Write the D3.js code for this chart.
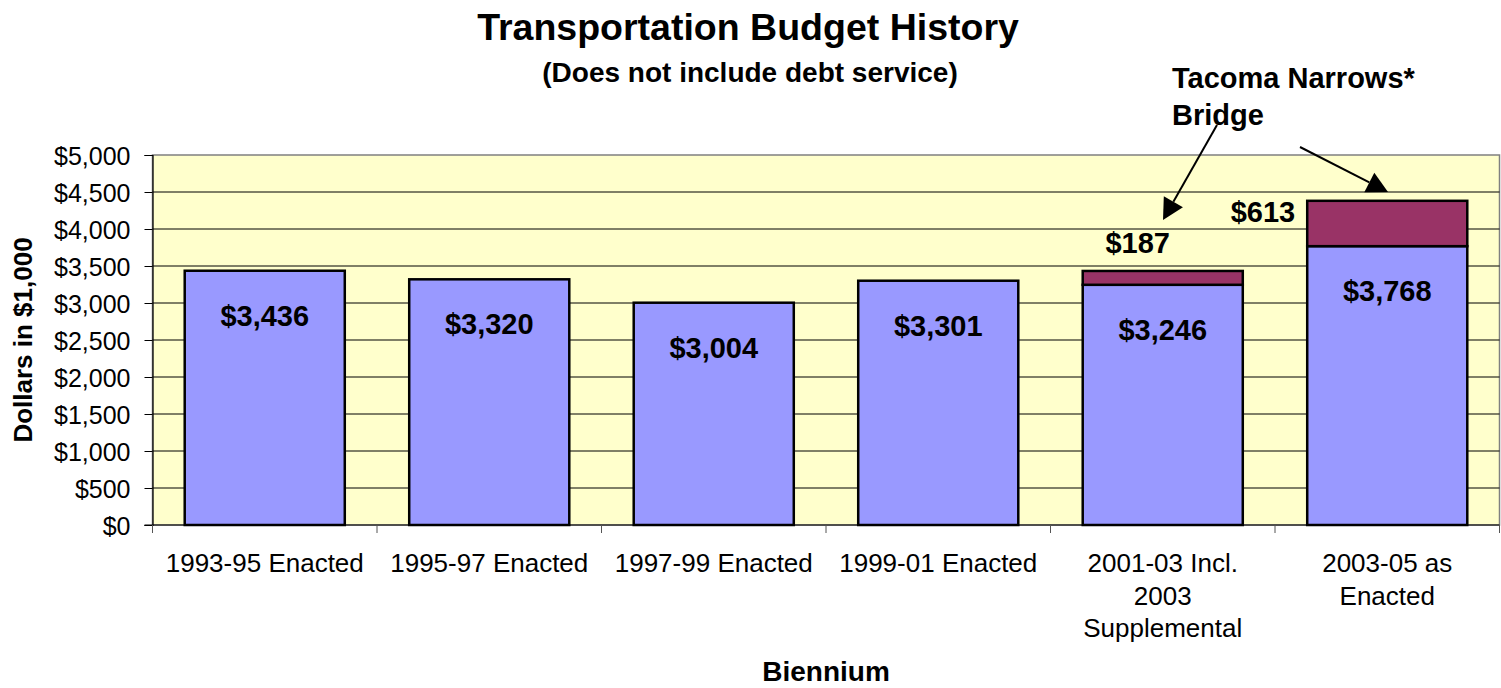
<!DOCTYPE html>
<html>
<head>
<meta charset="utf-8">
<script src="https://cdn.jsdelivr.net/npm/d3@7"></script>
<style>
  body { margin: 0; background: #fff; }
  text { font-family: Arial, "Liberation Sans", sans-serif; fill: #000; }
</style>
</head>
<body>
<div id="chart"></div>
<script>
// chart data
const categories = ["1993-95 Enacted", "1995-97 Enacted", "1997-99 Enacted", "1999-01 Enacted",
  "2001-03 Incl.\n2003\nSupplemental", "2003-05 as\nEnacted"];
const baseBudget = [3436, 3320, 3004, 3301, 3246, 3768];
const bridgeBudget = [0, 0, 0, 0, 187, 613];
const yTicks = [0, 500, 1000, 1500, 2000, 2500, 3000, 3500, 4000, 4500, 5000];

var width = 1501, height = 688;
var margin = {top: 155, right: 1.5, bottom: 163, left: 152.5};

var svg = d3.select("#chart").append("svg")
    .attr("width", width)
    .attr("height", height);

var x = d3.scaleBand()
    .domain(categories)
    .range([margin.left, width - margin.right])
    .paddingInner(0.287)
    .paddingOuter(0.1435);

var y = d3.scaleLinear()
    .domain([0, 5000])
    .range([height - margin.bottom, margin.top]);

var fmt = d => "$" + d3.format(",")(d);

// plot background
svg.append("rect")
    .attr("x", margin.left).attr("y", y(5000))
    .attr("width", width - margin.right - margin.left)
    .attr("height", y(0) - y(5000))
    .attr("fill", "#FFFFCC")
    .attr("stroke", "#808080")
    .attr("stroke-width", 1.5);

// gridlines
svg.append("g").selectAll("line")
    .data(yTicks.filter(d => d > 0 && d < 5000))
  .enter().append("line")
    .attr("x1", margin.left).attr("x2", width - margin.right)
    .attr("y1", d => y(d)).attr("y2", d => y(d))
    .attr("stroke", "#000").attr("stroke-width", 1);

// y axis
var yAxis = svg.append("g")
    .attr("transform", "translate(" + margin.left + ",0)")
    .call(d3.axisLeft(y).tickValues(yTicks).tickFormat(fmt).tickSize(8).tickPadding(14));
yAxis.select(".domain").attr("stroke", "#000").attr("stroke-width", 1.2);
yAxis.selectAll(".tick line").attr("stroke", "#000");
yAxis.selectAll("text").style("font-size", "25px").attr("dy", "0.36em");

// x axis: ticks at category boundaries
var step = x.step();
var bounds = d3.range(categories.length + 1).map(i => margin.left + i * step);
svg.append("line")
    .attr("x1", margin.left - 8).attr("x2", width - margin.right)
    .attr("y1", y(0)).attr("y2", y(0))
    .attr("stroke", "#000").attr("stroke-width", 1.2);
svg.append("g").selectAll("line")
    .data(bounds)
  .enter().append("line")
    .attr("x1", d => d).attr("x2", d => d)
    .attr("y1", y(0)).attr("y2", y(0) + 8)
    .attr("stroke", "#555").attr("stroke-width", 1);

// category labels
var catLabel = svg.append("g").selectAll("text")
    .data(categories)
  .enter().append("text")
    .attr("text-anchor", "middle")
    .style("font-size", "26px")
    .attr("transform", d => "translate(" + (x(d) + x.bandwidth() / 2) + "," + (y(0) + 47) + ")");
catLabel.each(function(d) {
  var t = d3.select(this);
  d.split("\n").forEach((line, i) => {
    t.append("tspan").attr("x", 0).attr("y", i * 32.5).text(line);
  });
});

// stacked bars
var barData = categories.map((c, i) => ({cat: c, base: baseBudget[i], bridge: bridgeBudget[i]}));

svg.append("g").selectAll("rect")
    .data(barData)
  .enter().append("rect")
    .attr("x", d => x(d.cat))
    .attr("y", d => y(d.base))
    .attr("width", x.bandwidth())
    .attr("height", d => y(0) - y(d.base))
    .attr("fill", "#9999FF")
    .attr("stroke", "#000").attr("stroke-width", 2.5);

svg.append("g").selectAll("rect")
    .data(barData.filter(d => d.bridge > 0))
  .enter().append("rect")
    .attr("x", d => x(d.cat))
    .attr("y", d => y(d.base + d.bridge))
    .attr("width", x.bandwidth())
    .attr("height", d => y(d.base) - y(d.base + d.bridge))
    .attr("fill", "#993366")
    .attr("stroke", "#000").attr("stroke-width", 2.5);

// value labels inside bars
svg.append("g").selectAll("text")
    .data(barData)
  .enter().append("text")
    .attr("x", d => x(d.cat) + x.bandwidth() / 2)
    .attr("y", d => y(d.base) + 55)
    .attr("text-anchor", "middle")
    .style("font-size", "29px").style("font-weight", "bold")
    .text(d => fmt(d.base));

// bridge labels
var b5 = barData[4], b6 = barData[5];
svg.append("text")
    .attr("x", x(b5.cat) + x.bandwidth() / 2 - 25)
    .attr("y", y(b5.base + b5.bridge) - 18)
    .attr("text-anchor", "middle")
    .style("font-size", "29px").style("font-weight", "bold")
    .text(fmt(b5.bridge));
svg.append("text")
    .attr("x", x(b6.cat) - 12)
    .attr("y", y(b6.base + b6.bridge) + 21)
    .attr("text-anchor", "end")
    .style("font-size", "29px").style("font-weight", "bold")
    .text(fmt(b6.bridge));

// annotation arrows
function arrow(x1, y1, x2, y2) {
  var dx = x2 - x1, dy = y2 - y1, len = Math.sqrt(dx * dx + dy * dy);
  var ux = dx / len, uy = dy / len, hl = 21, hw = 11;
  var bx = x2 - ux * hl, by = y2 - uy * hl;
  svg.append("line")
      .attr("x1", x1).attr("y1", y1).attr("x2", bx).attr("y2", by)
      .attr("stroke", "#000").attr("stroke-width", 2);
  svg.append("path")
      .attr("d", "M" + x2 + "," + y2 + "L" + (bx - uy * hw) + "," + (by + ux * hw)
        + "L" + (bx + uy * hw) + "," + (by - ux * hw) + "Z")
      .attr("fill", "#000");
}
arrow(1217, 125, 1163, 220);
arrow(1300, 147, 1388, 192);

svg.append("text")
    .attr("x", 1172).attr("y", 88)
    .style("font-size", "29px").style("font-weight", "bold")
    .text("Tacoma Narrows*");
svg.append("text")
    .attr("x", 1172).attr("y", 125)
    .style("font-size", "29px").style("font-weight", "bold")
    .text("Bridge");

// titles
svg.append("text")
    .attr("x", 748).attr("y", 40)
    .attr("text-anchor", "middle")
    .style("font-size", "37.5px").style("font-weight", "bold")
    .text("Transportation Budget History");
svg.append("text")
    .attr("x", 750).attr("y", 82)
    .attr("text-anchor", "middle")
    .style("font-size", "28px").style("font-weight", "bold")
    .text("(Does not include debt service)");

svg.append("text")
    .attr("x", (margin.left + width - margin.right) / 2).attr("y", 681)
    .attr("text-anchor", "middle")
    .style("font-size", "28px").style("font-weight", "bold")
    .text("Biennium");

svg.append("text")
    .attr("transform", "translate(32," + (y(0) + y(5000)) / 2 + ") rotate(-90)")
    .attr("text-anchor", "middle")
    .style("font-size", "26px").style("font-weight", "bold")
    .text("Dollars in $1,000");
</script>
</body>
</html>
